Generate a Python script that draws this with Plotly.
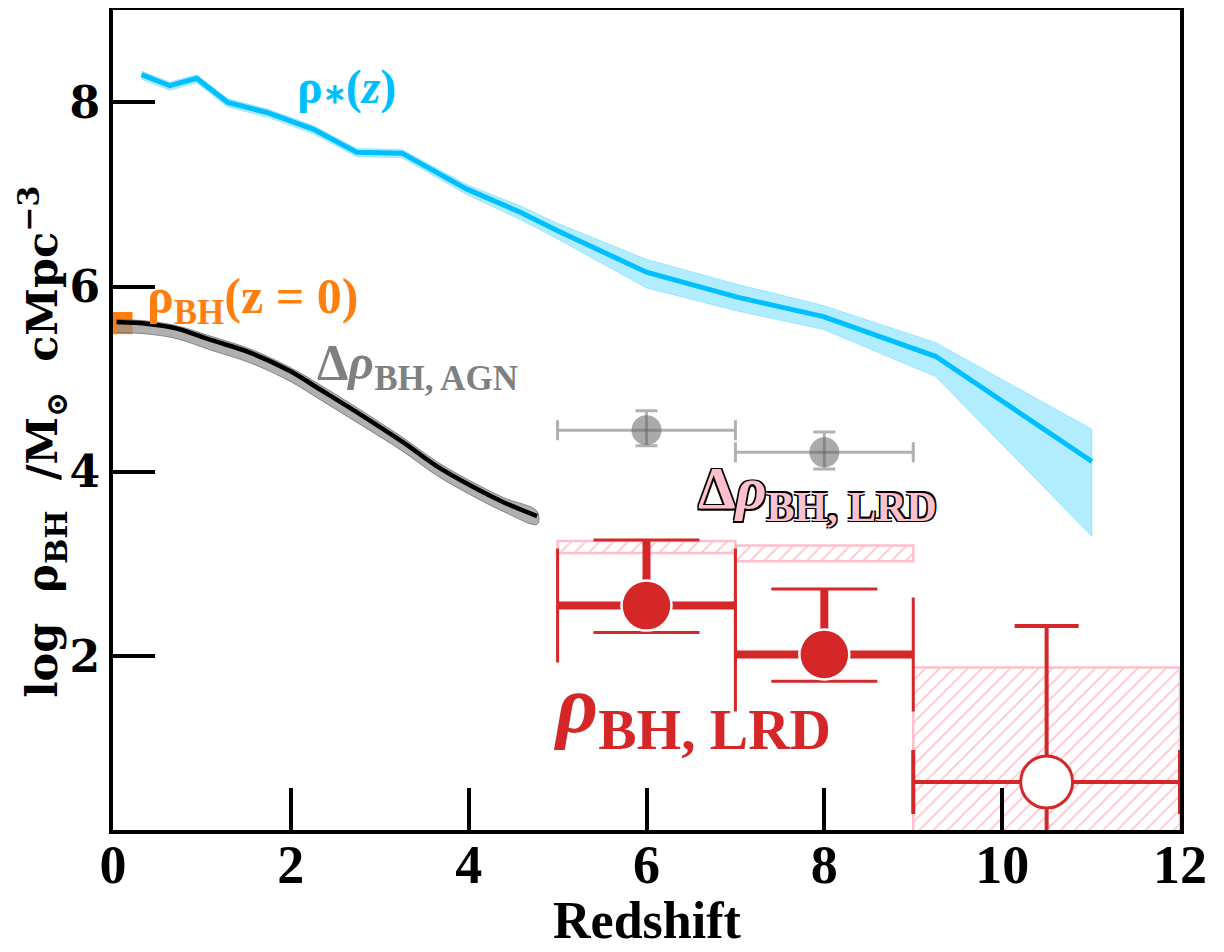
import plotly.graph_objects as go

# ---------------- data ----------------
# stellar mass density rho_*(z)
z_star = [0.32, 0.64, 0.94, 1.29, 1.73, 2.25, 2.74, 3.25, 3.98, 4.58, 5.0, 6.0, 7.02, 7.99, 9.25, 11.01]
rho_star = [8.30, 8.18, 8.26, 8.00, 7.89, 7.71, 7.46, 7.45, 7.06, 6.81, 6.61, 6.16, 5.89, 5.68, 5.25, 4.11]
rho_star_hi = [8.34, 8.22, 8.30, 8.04, 7.93, 7.75, 7.50, 7.49, 7.11, 6.88, 6.69, 6.30, 6.03, 5.80, 5.40, 4.46]
rho_star_lo = [8.25, 8.13, 8.21, 7.95, 7.84, 7.66, 7.41, 7.40, 7.00, 6.73, 6.52, 5.99, 5.74, 5.54, 5.03, 3.30]

# AGN-accreted BH mass density
z_agn = [0.04, 0.40, 0.72, 1.09, 1.54, 1.99, 2.33, 2.70, 3.26, 3.64, 4.02, 4.39, 4.77]
rho_agn = [5.62, 5.60, 5.55, 5.43, 5.29, 5.09, 4.89, 4.67, 4.32, 4.06, 3.85, 3.67, 3.52]
rho_agn_hi = [5.65, 5.63, 5.58, 5.47, 5.33, 5.13, 4.94, 4.72, 4.37, 4.11, 3.90, 3.72, 3.57]
rho_agn_lo = [5.51, 5.49, 5.44, 5.32, 5.18, 4.98, 4.78, 4.56, 4.22, 3.96, 3.75, 3.57, 3.43]

# local BH mass density (z=0)
z0_x = [0.11]
z0_width = [0.22]
z0_lo = [5.49]
z0_hi = [5.73]

# Delta rho_BH,LRD (grey points)
dz = [6.0, 8.0]
dz_lo = [5.0, 7.0]
dz_hi = [7.0, 9.0]
drho = [4.45, 4.21]
drho_hi = [4.66, 4.43]
drho_lo = [4.28, 4.03]

# Delta rho_BH,LRD hatched boxes
box_z = [6.0, 8.0, 10.5]
box_zlo = [5.0, 7.0, 9.0]
box_zhi = [7.0, 9.0, 12.0]
box_lo = [3.12, 3.03, -1.0]
box_hi = [3.25, 3.20, 1.88]

# rho_BH,LRD (red points)
lrd_z = [6.0, 8.0]
lrd_zlo = [5.0, 7.0]
lrd_zhi = [7.0, 9.0]
lrd_rho = [2.55, 2.02]
lrd_hi = [3.26, 2.73]
lrd_lo = [2.26, 1.73]

# open point (z ~ 10.5)
op_z = [10.5]
op_zlo = [9.0]
op_zhi = [12.0]
op_rho = [0.64]
op_hi = [2.33]
op_lo = [-1.5]

x_ticks = [0, 2, 4, 6, 8, 10, 12]
y_ticks = [2, 4, 6, 8]

RED = "#d62728"
BLUE = "#00bfff"
ORANGE = "#ff7f0e"
PINK = "#ffc0cb"
SERIF = "Liberation Serif"

fig = go.Figure()

# hatched boxes
fig.add_trace(go.Bar(
    x=box_z, base=box_lo,
    y=[h - l for h, l in zip(box_hi, box_lo)],
    width=[b - a for a, b in zip(box_zlo, box_zhi)],
    marker=dict(color="rgba(0,0,0,0)", opacity=1, line=dict(color=PINK, width=2.5),
                pattern=dict(shape="/", fgcolor=PINK, bgcolor="rgba(0,0,0,0)",
                             fgopacity=1, size=10, solidity=0.16, fillmode="overlay")),
    showlegend=False))

# orange z=0 box
fig.add_trace(go.Bar(
    x=z0_x, base=z0_lo, y=[h - l for h, l in zip(z0_hi, z0_lo)], width=z0_width,
    marker=dict(color=ORANGE, opacity=1, line=dict(width=0)), showlegend=False))

# stellar band + line
fig.add_trace(go.Scatter(x=z_star + z_star[::-1], y=rho_star_hi + rho_star_lo[::-1],
                         fill="toself", fillcolor="rgba(0,191,255,0.30)",
                         line=dict(width=1, color="rgba(0,191,255,0.25)"),
                         mode="lines", showlegend=False))
fig.add_trace(go.Scatter(x=z_star, y=rho_star, mode="lines",
                         line=dict(color=BLUE, width=5), showlegend=False))

# AGN band + line
fig.add_trace(go.Scatter(x=z_agn + z_agn[::-1], y=rho_agn_hi + rho_agn_lo[::-1],
                         fill="toself", fillcolor="rgba(150,150,150,0.75)",
                         line=dict(width=1, color="rgba(110,110,110,0.8)", shape="spline"),
                         mode="lines", showlegend=False))
fig.add_trace(go.Scatter(x=z_agn, y=rho_agn, mode="lines",
                         line=dict(color="black", width=4.5, shape="spline"), showlegend=False))

# grey Delta rho points
fig.add_trace(go.Scatter(
    x=dz, y=drho, mode="markers",
    marker=dict(size=30, color="rgba(100,100,100,0.55)", line=dict(width=0)),
    error_x=dict(type="data", symmetric=False,
                 array=[h - z for h, z in zip(dz_hi, dz)],
                 arrayminus=[z - l for l, z in zip(dz_lo, dz)],
                 color="rgba(100,100,100,0.5)", thickness=3, width=10),
    error_y=dict(type="data", symmetric=False,
                 array=[h - r for h, r in zip(drho_hi, drho)],
                 arrayminus=[r - l for l, r in zip(drho_lo, drho)],
                 color="rgba(100,100,100,0.5)", thickness=3, width=11),
    showlegend=False))

# red points: thick bodies
xs, ys = [], []
for a, b, r in zip(lrd_zlo, lrd_zhi, lrd_rho):
    xs += [a, b, None]
    ys += [r, r, None]
for z, r, h in zip(lrd_z, lrd_rho, lrd_hi):
    xs += [z, z, None]
    ys += [r, h, None]
fig.add_trace(go.Scatter(x=xs, y=ys, mode="lines", line=dict(color=RED, width=8),
                         showlegend=False))
# red points: caps + markers
fig.add_trace(go.Scatter(
    x=lrd_z, y=lrd_rho, mode="markers",
    marker=dict(size=50, color=RED, line=dict(color="white", width=2.5)),
    error_x=dict(type="data", symmetric=False,
                 array=[h - z for h, z in zip(lrd_zhi, lrd_z)],
                 arrayminus=[z - l for l, z in zip(lrd_zlo, lrd_z)],
                 color=RED, thickness=3, width=57),
    error_y=dict(type="data", symmetric=False,
                 array=[h - r for h, r in zip(lrd_hi, lrd_rho)],
                 arrayminus=[r - l for l, r in zip(lrd_lo, lrd_rho)],
                 color=RED, thickness=3, width=53),
    showlegend=False))

# open point
fig.add_trace(go.Scatter(
    x=op_z, y=op_rho, mode="markers",
    marker=dict(size=52, color="white", line=dict(color=RED, width=3)),
    error_x=dict(type="data", symmetric=False,
                 array=[h - z for h, z in zip(op_zhi, op_z)],
                 arrayminus=[z - l for l, z in zip(op_zlo, op_z)],
                 color=RED, thickness=4, width=32),
    error_y=dict(type="data", symmetric=False,
                 array=[h - r for h, r in zip(op_hi, op_rho)],
                 arrayminus=[r - l for l, r in zip(op_lo, op_rho)],
                 color=RED, thickness=4, width=32),
    showlegend=False))

# ---------------- annotations ----------------
OUTLINE = "-1.5px -1.5px 0 #000, 1.5px -1.5px 0 #000, -1.5px 1.5px 0 #000, 1.5px 1.5px 0 #000"
anns = [
    dict(x=2.63, y=8.17, text="<b>ρ<span style='font-size:28px'>∗</span>(<i>z</i>)</b>",
         font=dict(family=SERIF, size=48, color=BLUE)),
    dict(x=1.57, y=5.86, text="<b>ρ<sub>BH</sub>(z = 0)</b>",
         font=dict(family=SERIF, size=50, color=ORANGE)),
    dict(x=3.42, y=5.15, text="<b>Δ<i>ρ</i><sub>BH, AGN</sub></b>",
         font=dict(family=SERIF, size=50, color="#808080")),
    dict(x=7.92, y=3.78, text="<b>Δ<i>ρ</i><sub>BH, LRD</sub></b>",
         font=dict(family=SERIF, size=60, color=PINK, shadow=OUTLINE)),
    dict(x=6.51, y=1.42, text="<b><i>ρ</i><sub>BH, LRD</sub></b>",
         font=dict(family=SERIF, size=82, color=RED)),
]
for a in anns:
    a.update(xref="x", yref="y", showarrow=False, xanchor="center", yanchor="middle")

# axis titles
anns.append(dict(x=0.5, y=-0.11, xref="paper", yref="paper", showarrow=False,
                 xanchor="center", yanchor="middle", text="<b>Redshift</b>",
                 font=dict(family=SERIF, size=52, color="black")))
anns.append(dict(x=-0.066, y=0.473, xref="paper", yref="paper", showarrow=False,
                 xanchor="center", yanchor="middle", textangle=-90,
                 text="<b>log  ρ<sub>BH</sub>  /M<sub>⊙</sub>  cMpc<sup>−3</sup></b>",
                 font=dict(family="DejaVu Serif", size=43, color="black")))

fig.update_layout(
    width=1216, height=944,
    margin=dict(l=105, r=44, t=2, b=122),
    plot_bgcolor="white", paper_bgcolor="white",
    barmode="overlay", showlegend=False,
    annotations=anns,
    xaxis=dict(range=[0, 12], tickvals=x_ticks, ticktext=[str(t) for t in x_ticks],
               ticks="inside", ticklen=42, tickwidth=4, tickcolor="black",
               showline=True, linewidth=4, linecolor="black", mirror=True,
               showgrid=False, zeroline=False, automargin=False,
               ticklabelstandoff=-16,
               tickfont=dict(family=SERIF, size=54, color="black", weight="bold")),
    yaxis=dict(range=[0.12, 9.0], tickvals=y_ticks, ticktext=[str(t) for t in y_ticks],
               ticks="inside", ticklen=42, tickwidth=4, tickcolor="black",
               showline=True, linewidth=4, linecolor="black", mirror=True,
               showgrid=False, zeroline=False, automargin=False,
               tickfont=dict(family="DejaVu Serif", size=44, color="black", weight="bold")),
)

fig.write_html("out.html")
